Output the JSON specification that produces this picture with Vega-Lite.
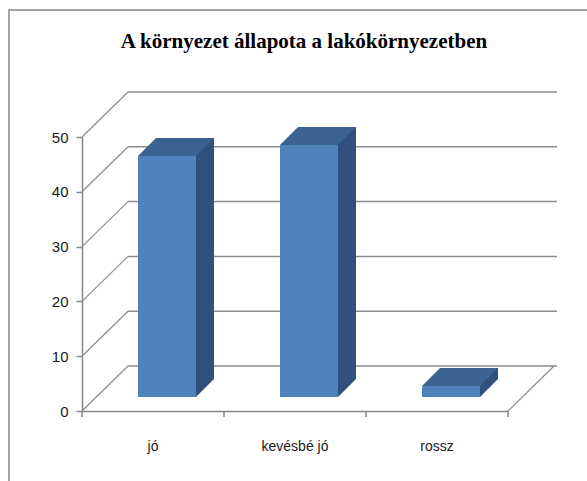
{
  "$schema": "https://vega.github.io/schema/vega-lite/v6.json",
  "width": 580,
  "height": 473,
  "autosize": {"type": "none"},
  "padding": {"left": 9, "top": 10, "right": -2, "bottom": -2},
  "title": {
    "text": "A környezet állapota a lakókörnyezetben",
    "font": "Liberation Serif",
    "fontSize": 21,
    "fontWeight": "bold",
    "color": "#000000",
    "anchor": "middle",
    "offset": -42,
    "dx": 5
  },
  "config": {
    "view": {"stroke": "#878787", "strokeWidth": 1.5},
    "axis": {"grid": false, "domainColor": "#878787", "domainWidth": 1.5, "tickColor": "#878787", "tickWidth": 1.5},
    "axisY": {"offset": -73, "tickSize": 6, "tickCount": 5, "labelFont": "Liberation Sans", "labelFontSize": 15, "labelColor": "#1a1a1a", "labelPadding": 8},
    "axisX": {"offset": -72, "ticks": false, "labelFont": "Liberation Sans", "labelFontSize": 14, "labelColor": "#1a1a1a", "labelPadding": 28, "labelAngle": 0}
  },
  "datasets": {
    "bars": [
      {"kategoria": "jó", "ertek": 44},
      {"kategoria": "kevésbé jó", "ertek": 46},
      {"kategoria": "rossz", "ertek": 2}
    ],
    "ticks": [{"t": 0}, {"t": 10}, {"t": 20}, {"t": 30}, {"t": 40}, {"t": 50}]
  },
  "layer": [
    {
      "data": {"name": "ticks"},
      "mark": {"type": "rule", "stroke": "#8c8c8c", "strokeWidth": 1.5, "xOffset": -25, "x2Offset": 120, "yOffset": -45},
      "encoding": {
        "x": {"datum": "jó", "type": "nominal", "title": null, "scale": {"type": "band", "domain": ["jó", "kevésbé jó", "rossz"], "range": [73, 499], "paddingInner": 0, "paddingOuter": 0}},
        "x2": {"datum": "rossz"},
        "y": {"field": "t", "type": "quantitative", "title": null, "scale": {"domain": [0, 50], "range": [401, 127], "nice": false, "zero": true}}
      }
    },
    {
      "data": {"name": "ticks"},
      "mark": {"type": "point", "shape": "M0,0L0.92,-0.9", "size": 10000, "filled": false, "opacity": 1, "stroke": "#8c8c8c", "strokeWidth": 1.2, "xOffset": -71},
      "encoding": {
        "x": {"datum": "jó", "type": "nominal", "title": null},
        "y": {"field": "t", "type": "quantitative", "title": null}
      }
    },
    {
      "data": {"name": "ticks"},
      "transform": [{"filter": "datum.t == 0"}],
      "mark": {"type": "point", "shape": "M0,0L0.92,-0.9", "size": 10000, "filled": false, "opacity": 1, "stroke": "#8c8c8c", "strokeWidth": 1.2, "xOffset": 71},
      "encoding": {
        "x": {"datum": "rossz", "type": "nominal", "title": null},
        "y": {"field": "t", "type": "quantitative", "title": null}
      }
    },
    {
      "data": {"name": "bars"},
      "mark": {"type": "rule", "stroke": "#878787", "strokeWidth": 1.5, "xOffset": 71, "y2Offset": 6},
      "encoding": {
        "x": {"field": "kategoria", "type": "nominal", "title": null},
        "y": {"datum": 0, "type": "quantitative", "title": null},
        "y2": {"datum": 0}
      }
    },
    {
      "data": {"name": "bars"},
      "transform": [{"filter": "datum.kategoria == 'jó'"}],
      "mark": {"type": "rule", "stroke": "#878787", "strokeWidth": 1.5, "xOffset": -71, "y2Offset": 6},
      "encoding": {
        "x": {"field": "kategoria", "type": "nominal", "title": null},
        "y": {"datum": 0, "type": "quantitative", "title": null},
        "y2": {"datum": 0}
      }
    },
    {
      "data": {"name": "bars"},
      "mark": {"type": "bar", "width": 58, "fill": "#30517d", "xOffset": 32, "yOffset": -32, "y2Offset": -32},
      "encoding": {
        "x": {"field": "kategoria", "type": "nominal", "title": null},
        "y": {"field": "ertek", "type": "quantitative", "title": null},
        "y2": {"datum": 0}
      }
    },
    {
      "data": {"name": "bars"},
      "mark": {"type": "point", "shape": "M0.58,-0.36L0.58,0L0.94,-0.36Z", "size": 10000, "filled": true, "opacity": 1, "fill": "#30517d", "strokeWidth": 0, "xOffset": 14, "yOffset": -14},
      "encoding": {
        "x": {"field": "kategoria", "type": "nominal", "title": null},
        "y": {"datum": 0, "type": "quantitative", "title": null}
      }
    },
    {
      "data": {"name": "bars"},
      "mark": {"type": "point", "shape": "M-0.58,0L0.58,0L0.94,-0.36L-0.22,-0.36Z", "size": 10000, "filled": true, "opacity": 1, "fill": "#3b6392", "strokeWidth": 0, "xOffset": 14, "yOffset": -14},
      "encoding": {
        "x": {"field": "kategoria", "type": "nominal", "title": null},
        "y": {"field": "ertek", "type": "quantitative", "title": null}
      }
    },
    {
      "data": {"name": "bars"},
      "mark": {"type": "bar", "width": 58, "fill": "#4f81bd", "xOffset": 14, "yOffset": -14, "y2Offset": -14},
      "encoding": {
        "x": {"field": "kategoria", "type": "nominal", "title": null},
        "y": {"field": "ertek", "type": "quantitative", "title": null},
        "y2": {"datum": 0}
      }
    }
  ]
}
